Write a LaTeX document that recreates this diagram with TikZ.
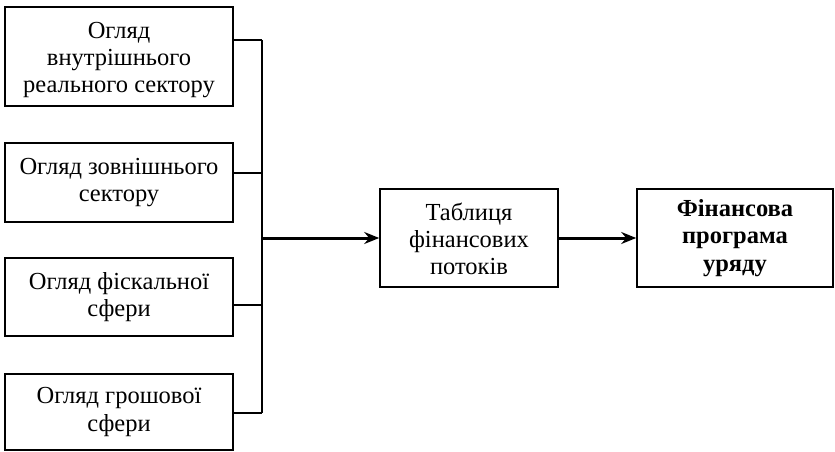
\documentclass[tikz,border=0pt]{standalone}
\usepackage{fontspec}
\setmainfont{Liberation Serif}
\usetikzlibrary{arrows.meta}
\begin{document}
\begin{tikzpicture}[x=1pt,y=-1pt,
  box/.style={draw,line width=1.6pt,align=center,inner sep=0pt,
    font=\rmfamily\fontsize{24.5}{27.5}\selectfont},
  txt/.style={align=center,inner sep=0pt,font=\rmfamily\fontsize{24.5}{27}\selectfont},
  link/.style={line width=1.6pt},
  flow/.style={line width=3pt,-{Stealth[length=15pt,width=12pt,inset=5pt]}}]
\useasboundingbox (0,0) rectangle (835,452);
\node[box,minimum width=228pt,minimum height=99pt] (b1) at (119,56.5) {};
\node[txt] (b1t) at ([yshift=-4pt]b1.center) {Огляд\\внутрішнього\\реального сектору};
\node[box,minimum width=228pt,minimum height=79pt] (b2) at (119,182.5) {Огляд зовнішнього\\сектору};
\node[box,minimum width=228pt,minimum height=78pt] (b3) at (119,297) {Огляд фіскальної\\сфери};
\node[box,minimum width=228pt,minimum height=76pt] (b4) at (119,412) {Огляд грошової\\сфери};
\node[box,minimum width=178pt,minimum height=98pt] (t) at (469,238) {};
\node[txt] (tt) at ([yshift=-1pt]t.center) {Таблиця\\фінансових\\потоків};
\node[box,minimum width=196pt,minimum height=98pt,font=\rmfamily\fontsize{24.5}{27.5}\selectfont\bfseries] (f) at (735,238) {Фінансова\\програма\\уряду};
\coordinate (j1) at (262,40);
\coordinate (j2) at (262,173);
\coordinate (j3) at (262,305);
\coordinate (j4) at (262,413);
\coordinate (jm) at (262,238);
\draw[link] (j1 -| b1.east) -- (j1);
\draw[link] (j2 -| b2.east) -- (j2);
\draw[link] (j3 -| b3.east) -- (j3);
\draw[link] (j4 -| b4.east) -- (j4);
\draw[link] (j1) -- (j4);
\draw[flow] ([xshift=-0.8pt]jm) -- (t.west);
\draw[flow] (t.east) -- (f.west);
\end{tikzpicture}
\end{document}
